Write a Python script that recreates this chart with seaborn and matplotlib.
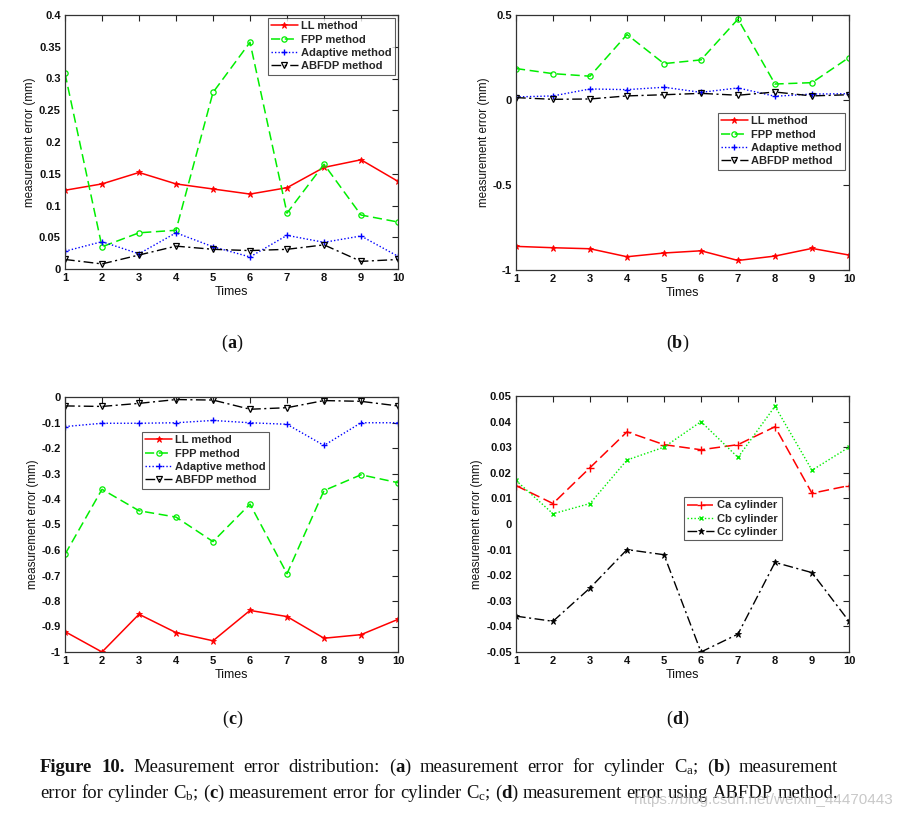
import numpy as np
import pandas as pd
import matplotlib
matplotlib.use("Agg")
import matplotlib.pyplot as plt
import seaborn as sns
from matplotlib.ticker import FixedLocator, FixedFormatter

# ---------------- data ----------------
times = [1, 2, 3, 4, 5, 6, 7, 8, 9, 10]

a_ll = [0.124, 0.134, 0.152, 0.134, 0.126, 0.118, 0.128, 0.160, 0.172, 0.138]
a_fpp = [0.308, 0.035, 0.057, 0.061, 0.278, 0.357, 0.088, 0.165, 0.085, 0.074]
a_adaptive = [0.028, 0.043, 0.024, 0.057, 0.035, 0.019, 0.053, 0.042, 0.052, 0.020]
a_abfdp = [0.015, 0.008, 0.022, 0.036, 0.031, 0.029, 0.031, 0.038, 0.012, 0.015]

b_ll = [-0.861, -0.869, -0.875, -0.922, -0.900, -0.887, -0.944, -0.918, -0.873, -0.912]
b_fpp = [0.185, 0.155, 0.140, 0.385, 0.214, 0.236, 0.476, 0.094, 0.102, 0.250]
b_adaptive = [0.018, 0.024, 0.065, 0.061, 0.075, 0.045, 0.071, 0.022, 0.035, 0.037]
b_abfdp = [0.014, 0.004, 0.006, 0.024, 0.031, 0.039, 0.028, 0.047, 0.024, 0.031]

c_ll = [-0.920, -1.000, -0.852, -0.924, -0.956, -0.837, -0.861, -0.946, -0.932, -0.872]
c_fpp = [-0.617, -0.362, -0.446, -0.471, -0.567, -0.420, -0.693, -0.367, -0.305, -0.336]
c_adaptive = [-0.116, -0.103, -0.103, -0.101, -0.092, -0.101, -0.107, -0.190, -0.101, -0.101]
c_abfdp = [-0.035, -0.037, -0.025, -0.010, -0.012, -0.048, -0.042, -0.014, -0.017, -0.035]

d_ca = [0.015, 0.008, 0.022, 0.036, 0.031, 0.029, 0.031, 0.038, 0.012, 0.015]
d_cb = [0.017, 0.004, 0.008, 0.025, 0.030, 0.040, 0.026, 0.046, 0.021, 0.030]
d_cc = [-0.036, -0.038, -0.025, -0.010, -0.012, -0.050, -0.043, -0.015, -0.019, -0.038]

method_labels = ["LL method", "FPP method", "Adaptive method", "ABFDP method"]
cyl_labels = ["Ca cylinder", "Cb cylinder", "Cc cylinder"]

yticks_a = [0, 0.05, 0.1, 0.15, 0.2, 0.25, 0.3, 0.35, 0.4]
yticklabels_a = ["0", "0.05", "0.1", "0.15", "0.2", "0.25", "0.3", "0.35", "0.4"]
yticks_b = [-1, -0.5, 0, 0.5]
yticklabels_b = ["-1", "-0.5", "0", "0.5"]
yticks_c = [-1, -0.9, -0.8, -0.7, -0.6, -0.5, -0.4, -0.3, -0.2, -0.1, 0]
yticklabels_c = ["-1", "-0.9", "-0.8", "-0.7", "-0.6", "-0.5", "-0.4", "-0.3", "-0.2", "-0.1", "0"]
yticks_d = [-0.05, -0.04, -0.03, -0.02, -0.01, 0, 0.01, 0.02, 0.03, 0.04, 0.05]
yticklabels_d = ["-0.05", "-0.04", "-0.03", "-0.02", "-0.01", "0", "0.01", "0.02", "0.03", "0.04", "0.05"]
xticklabels = ["1", "2", "3", "4", "5", "6", "7", "8", "9", "10"]

# ---------------- style ----------------
sns.set_theme(style="white")
plt.rcParams["font.family"] = ["Liberation Sans", "DejaVu Sans"]
plt.rcParams["mathtext.fontset"] = "custom"
plt.rcParams["mathtext.rm"] = "Liberation Serif"
plt.rcParams["mathtext.it"] = "Liberation Serif:italic"

W, H = 903, 818
fig = plt.figure(figsize=(W / 100, H / 100), dpi=100)
fig.patch.set_facecolor("white")

def ax_at(left, top, right, bottom):
    return fig.add_axes([left / W, 1 - bottom / H, (right - left) / W, (bottom - top) / H])

RED, GREEN, BLUE, BLACK = "#ff0000", "#00ee00", "#0000ff", "#000000"
method_styles = [
    dict(color=RED, linestyle="-", marker="*", markersize=4.5, markerfacecolor=RED,
         markeredgecolor=RED, markeredgewidth=0.6, linewidth=1.1),
    dict(color=GREEN, linestyle=(0, (6, 3)), marker="o", markersize=3.8, markerfacecolor="none",
         markeredgecolor=GREEN, markeredgewidth=0.9, linewidth=1.1),
    dict(color=BLUE, linestyle=(0, (1, 1.5)), marker="+", markersize=5,
         markeredgecolor=BLUE, markeredgewidth=1.0, linewidth=1.0),
    dict(color=BLACK, linestyle=(0, (7, 2.5, 1.5, 2.5)), marker="v", markersize=4.5, markerfacecolor="none",
         markeredgecolor=BLACK, markeredgewidth=0.9, linewidth=1.0),
]
cyl_styles = [
    dict(color=RED, linestyle=(0, (7, 3)), marker="+", markersize=5.5,
         markeredgecolor=RED, markeredgewidth=1.0, linewidth=1.1),
    dict(color=GREEN, linestyle=(0, (1, 1.5)), marker="x", markersize=3,
         markeredgecolor=GREEN, markeredgewidth=1.0, linewidth=1.0),
    dict(color=BLACK, linestyle=(0, (7, 2.5, 1.5, 2.5)), marker="*", markersize=4.5, markerfacecolor=BLACK,
         markeredgecolor=BLACK, markeredgewidth=0.6, linewidth=1.0),
]

def style_axes(ax, yticks, yticklabels, ylim):
    ax.set_xlim(1, 10)
    ax.set_ylim(*ylim)
    ax.xaxis.set_major_locator(FixedLocator(times))
    ax.xaxis.set_major_formatter(FixedFormatter(xticklabels))
    ax.yaxis.set_major_locator(FixedLocator(yticks))
    ax.yaxis.set_major_formatter(FixedFormatter(yticklabels))
    ax.tick_params(axis="both", which="major", direction="in", length=4, width=0.8,
                   top=True, right=True, labelsize=8, pad=3, colors="#222222")
    for lab in ax.get_xticklabels() + ax.get_yticklabels():
        lab.set_fontweight("bold")
        lab.set_color("#111111")
    for s in ax.spines.values():
        s.set_color("#333333")
        s.set_linewidth(0.9)
    ax.set_xlabel("Times", fontsize=9, labelpad=2, color="#111111")
    ax.set_ylabel("measurement error (mm)", fontsize=8.4, labelpad=2, color="#111111")
    ax.grid(False)

def draw(ax, series, labels, styles):
    for vals, lab, st in zip(series, labels, styles):
        df = pd.DataFrame({"Times": times, "err": vals})
        sns.lineplot(data=df, x="Times", y="err", ax=ax, label=lab, **st)

def legend(ax, loc, anchor):
    leg = ax.legend(loc=loc, bbox_to_anchor=anchor, prop=dict(weight="bold", size=8),
                    frameon=True, fancybox=False, handlelength=2.4, handletextpad=0.3,
                    labelspacing=0.3, borderpad=0.3, borderaxespad=0)
    leg.get_frame().set_edgecolor("#333333")
    leg.get_frame().set_linewidth(0.8)

# (a)
axa = ax_at(65, 15, 398, 269)
draw(axa, [a_ll, a_fpp, a_adaptive, a_abfdp], method_labels, method_styles)
style_axes(axa, yticks_a, yticklabels_a, (0, 0.4))
legend(axa, "upper right", (0.991, 0.988))

# (b)
axb = ax_at(516, 15, 849, 270)
draw(axb, [b_ll, b_fpp, b_adaptive, b_abfdp], method_labels, method_styles)
style_axes(axb, yticks_b, yticklabels_b, (-1, 0.5))
legend(axb, "upper right", (0.988, 0.616))

# (c)
axc = ax_at(65, 397, 398, 652)
draw(axc, [c_ll, c_fpp, c_adaptive, c_abfdp], method_labels, method_styles)
style_axes(axc, yticks_c, yticklabels_c, (-1, 0))
legend(axc, "upper left", (0.231, 0.863))

# (d)
axd = ax_at(516, 396, 849, 652)
draw(axd, [d_ca, d_cb, d_cc], cyl_labels, cyl_styles)
style_axes(axd, yticks_d, yticklabels_d, (-0.05, 0.05))
legend(axd, "upper left", (0.505, 0.605))

# ---------------- panel labels and caption ----------------
serif = ["Liberation Serif", "DejaVu Serif"]
fig.canvas.draw()
renderer = fig.canvas.get_renderer()

def measure(txt, bold, size):
    t = fig.text(0, 0, txt, fontsize=size, family=serif, fontweight="bold" if bold else "normal")
    w = t.get_window_extent(renderer).width
    t.remove()
    return w

def runs(x_px, y_px, parts, size, target_width=None):
    tokens = []
    for txt, bold in parts:
        pieces = txt.split(" ")
        for i, p in enumerate(pieces):
            if p != "":
                tokens.append([p, bold, False])
            if i < len(pieces) - 1 and tokens:
                tokens[-1][2] = True
    space_w = measure("a a", False, size) - measure("aa", False, size)
    widths = [measure(t[0], t[1], size) for t in tokens]
    n_gaps = sum(1 for t in tokens[:-1] if t[2])
    natural = sum(widths) + n_gaps * space_w
    extra = 0.0
    if target_width is not None and n_gaps > 0:
        extra = max(0.0, (target_width - natural) / n_gaps)
    x = x_px
    for (txt, bold, sp), w in zip(tokens, widths):
        fig.text(x / W, 1 - y_px / H, txt, fontsize=size, family=serif,
                 fontweight="bold" if bold else "normal", va="baseline", ha="left",
                 color="#111111")
        x += w
        if sp:
            x += space_w + extra

def centered_label(cx, y, letter):
    parts = [("(", False), (letter, True), (")", False)]
    tot = sum(measure(t, b, 13) for t, b in parts)
    runs(cx - tot / 2, y, parts, 13)

centered_label(232, 348, "a")
centered_label(677, 348, "b")
centered_label(232, 724, "c")
centered_label(677, 724, "d")

cap_size = 13.4
runs(40, 772, [("Figure 10.", True), (" Measurement error distribution: (", False), ("a", True),
               (r") measurement error for cylinder C$_\mathrm{a}$; (", False), ("b", True),
               (") measurement", False)], cap_size, target_width=798)
runs(40, 798, [(r"error for cylinder C$_\mathrm{b}$; (", False), ("c", True),
               (r") measurement error for cylinder C$_\mathrm{c}$; (", False), ("d", True),
               (") measurement error using ABFDP method.", False)], cap_size)

fig.text(893 / W, 1 - 804 / H, "https://blog.csdn.net/weixin_44470443", fontsize=11,
         color="#bbbbbb", alpha=0.8, ha="right", va="baseline", family=["Liberation Sans"])

fig.savefig("out.png", dpi=100, facecolor="white")
